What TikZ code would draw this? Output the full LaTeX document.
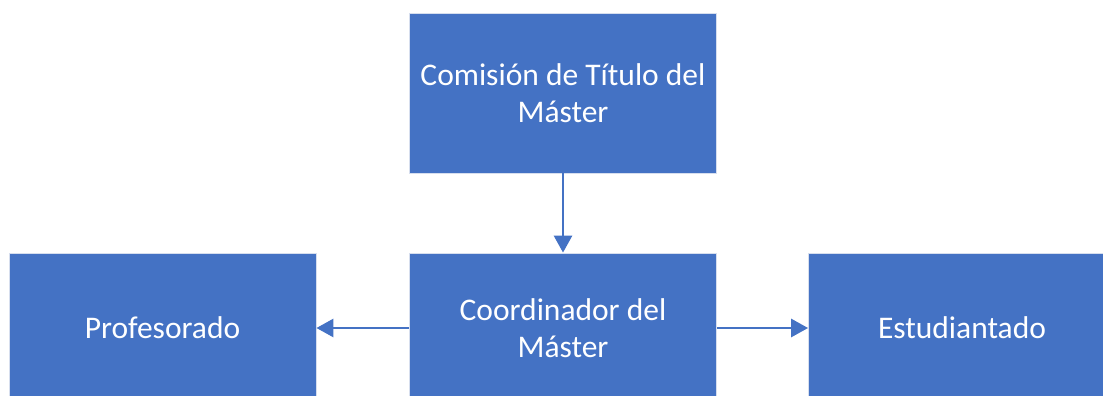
\documentclass[tikz,border=0pt]{standalone}
\usepackage{fontspec}
\setmainfont{Carlito}
\usetikzlibrary{arrows.meta}
\definecolor{boxblue}{HTML}{4472C4}
\definecolor{boxedge}{HTML}{D6DEEE}
\begin{document}
\begin{tikzpicture}[x=1pt,y=-1pt,
  orgbox/.style={rectangle,fill=boxblue,draw=boxedge,line width=0.8pt,
    minimum width=307pt,minimum height=160pt,inner sep=0pt,
    text=white,align=center,font=\fontsize{31.5}{37}\selectfont},
  lowbox/.style={orgbox,minimum height=150pt},
  link/.style={draw=boxblue,line width=2.8pt,-{Triangle[width=18pt,length=17pt]}}]
\useasboundingbox (0,0) rectangle (1103,396);
\clip (0,0) rectangle (1103,396);
\node[orgbox] (cttm) at (563,93) {Comisión de Título del\\Máster};
\node[lowbox] (coord) at (563,328) {Coordinador del\\Máster};
\node[lowbox] (prof) at (162.5,328) {Profesorado};
\node[lowbox] (est) at (962,328) {Estudiantado};
\draw[link] (cttm.south) -- (coord.north);
\draw[link] (coord.west) -- (prof.east);
\draw[link] (coord.east) -- (est.west);
\end{tikzpicture}
\end{document}
